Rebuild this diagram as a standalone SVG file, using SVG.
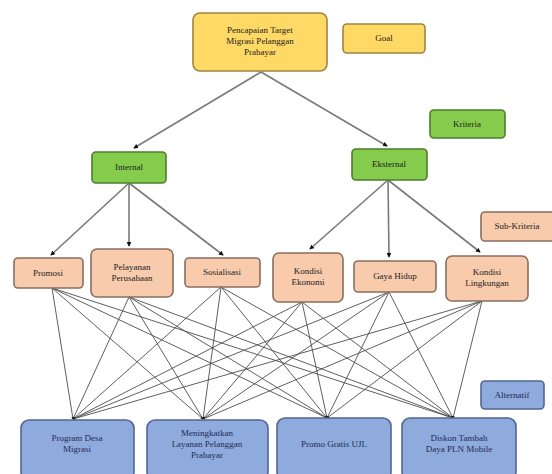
<svg xmlns="http://www.w3.org/2000/svg" width="552" height="474" viewBox="0 0 552 474">
<defs>
<style>
.box{stroke-width:1.6}
.y{fill:#FFD966;stroke:#9C8440}
.g{fill:#86CC4C;stroke:#4E7D2C}
.p{fill:#F8CBAD;stroke:#8A6E60}
.b{fill:#8FAADC;stroke:#536690}
text{font-family:"Liberation Serif","DejaVu Serif",serif;font-size:9px;fill:#222;text-anchor:middle}
.bt{fill:#1F2A55}
.top{stroke:#7A7A7A;stroke-width:1.6;fill:none}
.mesh{stroke:#4D4D4D;stroke-width:0.9;fill:none}
</style>
<marker id="ah" viewBox="0 0 6 6" refX="5" refY="3" markerWidth="3" markerHeight="3" orient="auto">
<path d="M0,0 L6,3 L0,6 Z" fill="#111"/>
</marker>
<marker id="ahs" viewBox="0 0 6 6" refX="5" refY="3" markerWidth="3" markerHeight="3" orient="auto">
<path d="M0,0 L6,3 L0,6 Z" fill="#222"/>
</marker>
</defs>
<rect width="552" height="474" fill="#ffffff"/>

<g id="connectors">
<line class="top" x1="261" y1="72" x2="134" y2="148" marker-end="url(#ah)"/>
<line class="top" x1="261" y1="72" x2="387" y2="146" marker-end="url(#ah)"/>
<line class="top" x1="129" y1="183" x2="51" y2="255" marker-end="url(#ah)"/>
<line class="top" x1="129" y1="183" x2="129" y2="246" marker-end="url(#ah)"/>
<line class="top" x1="129" y1="183" x2="223" y2="255" marker-end="url(#ah)"/>
<line class="top" x1="388" y1="180" x2="310" y2="249" marker-end="url(#ah)"/>
<line class="top" x1="388" y1="180" x2="389" y2="257" marker-end="url(#ah)"/>
<line class="top" x1="388" y1="180" x2="480" y2="252" marker-end="url(#ah)"/>
<g class="mesh" marker-end="url(#ahs)">
<line x1="52" y1="288" x2="73" y2="419"/>
<line x1="52" y1="288" x2="203" y2="419"/>
<line x1="52" y1="288" x2="327" y2="418"/>
<line x1="52" y1="288" x2="453" y2="418"/>
<line x1="129" y1="297" x2="73" y2="419"/>
<line x1="129" y1="297" x2="203" y2="419"/>
<line x1="129" y1="297" x2="327" y2="418"/>
<line x1="129" y1="297" x2="453" y2="418"/>
<line x1="221" y1="287" x2="73" y2="419"/>
<line x1="221" y1="287" x2="203" y2="419"/>
<line x1="221" y1="287" x2="327" y2="418"/>
<line x1="221" y1="287" x2="453" y2="418"/>
<line x1="302" y1="302" x2="73" y2="419"/>
<line x1="302" y1="302" x2="203" y2="419"/>
<line x1="302" y1="302" x2="327" y2="418"/>
<line x1="302" y1="302" x2="453" y2="418"/>
<line x1="389" y1="292" x2="73" y2="419"/>
<line x1="389" y1="292" x2="203" y2="419"/>
<line x1="389" y1="292" x2="327" y2="418"/>
<line x1="389" y1="292" x2="453" y2="418"/>
<line x1="482" y1="301" x2="73" y2="419"/>
<line x1="482" y1="301" x2="203" y2="419"/>
<line x1="482" y1="301" x2="327" y2="418"/>
<line x1="482" y1="301" x2="453" y2="418"/>
</g>
</g>

<g id="goal">
<rect class="box y" x="193" y="13" width="134" height="58" rx="7"/>
<text x="260" y="33">Pencapaian Target</text>
<text x="260" y="44">Migrasi Pelanggan</text>
<text x="260" y="55">Prabayar</text>
</g>
<g id="legend-goal">
<rect class="box y" x="343" y="24" width="82" height="29" rx="4"/>
<text x="384" y="41">Goal</text>
</g>
<g id="legend-kriteria">
<rect class="box g" x="430" y="110" width="75" height="28" rx="4"/>
<text x="467" y="127">Kriteria</text>
</g>
<g id="internal">
<rect class="box g" x="92" y="152" width="74" height="31" rx="4"/>
<text x="129" y="170">Internal</text>
</g>
<g id="eksternal">
<rect class="box g" x="352" y="149" width="75" height="31" rx="4"/>
<text x="389" y="167">Eksternal</text>
</g>
<g id="legend-subkriteria">
<rect class="box p" x="481" y="212" width="80" height="29" rx="4"/>
<text x="517" y="229">Sub-Kriteria</text>
</g>
<g id="promosi">
<rect class="box p" x="14" y="258" width="69" height="30" rx="4"/>
<text x="48" y="276">Promosi</text>
</g>
<g id="pelayanan">
<rect class="box p" x="91" y="249" width="82" height="48" rx="6"/>
<text x="132" y="270">Pelayanan</text>
<text x="132" y="281">Perusahaan</text>
</g>
<g id="sosialisasi">
<rect class="box p" x="185" y="258" width="75" height="29" rx="4"/>
<text x="222" y="275">Sosialisasi</text>
</g>
<g id="kondisi-ekonomi">
<rect class="box p" x="273" y="253" width="70" height="49" rx="6"/>
<text x="308" y="274">Kondisi</text>
<text x="308" y="285">Ekonomi</text>
</g>
<g id="gaya-hidup">
<rect class="box p" x="354" y="261" width="82" height="31" rx="4"/>
<text x="395" y="279">Gaya Hidup</text>
</g>
<g id="kondisi-lingkungan">
<rect class="box p" x="446" y="256" width="82" height="45" rx="6"/>
<text x="487" y="275">Kondisi</text>
<text x="487" y="286">Lingkungan</text>
</g>
<g id="legend-alternatif">
<rect class="box b" x="481" y="381" width="63" height="28" rx="4"/>
<text class="bt" x="512" y="398">Alternatif</text>
</g>
<g id="program-desa">
<rect class="box b" x="21" y="420" width="113" height="60" rx="8"/>
<text class="bt" x="77" y="441">Program Desa</text>
<text class="bt" x="77" y="452">Migrasi</text>
</g>
<g id="meningkatkan">
<rect class="box b" x="147" y="420" width="121" height="60" rx="8"/>
<text class="bt" x="207" y="436">Meningkatkan</text>
<text class="bt" x="207" y="447">Layanan Pelanggan</text>
<text class="bt" x="207" y="458">Prabayar</text>
</g>
<g id="promo">
<rect class="box b" x="277" y="418" width="114" height="62" rx="8"/>
<text class="bt" x="334" y="447">Promo Gratis UJL</text>
</g>
<g id="diskon">
<rect class="box b" x="402" y="418" width="114" height="62" rx="8"/>
<text class="bt" x="459" y="441">Diskon Tambah</text>
<text class="bt" x="459" y="452">Daya PLN Mobile</text>
</g>
</svg>
